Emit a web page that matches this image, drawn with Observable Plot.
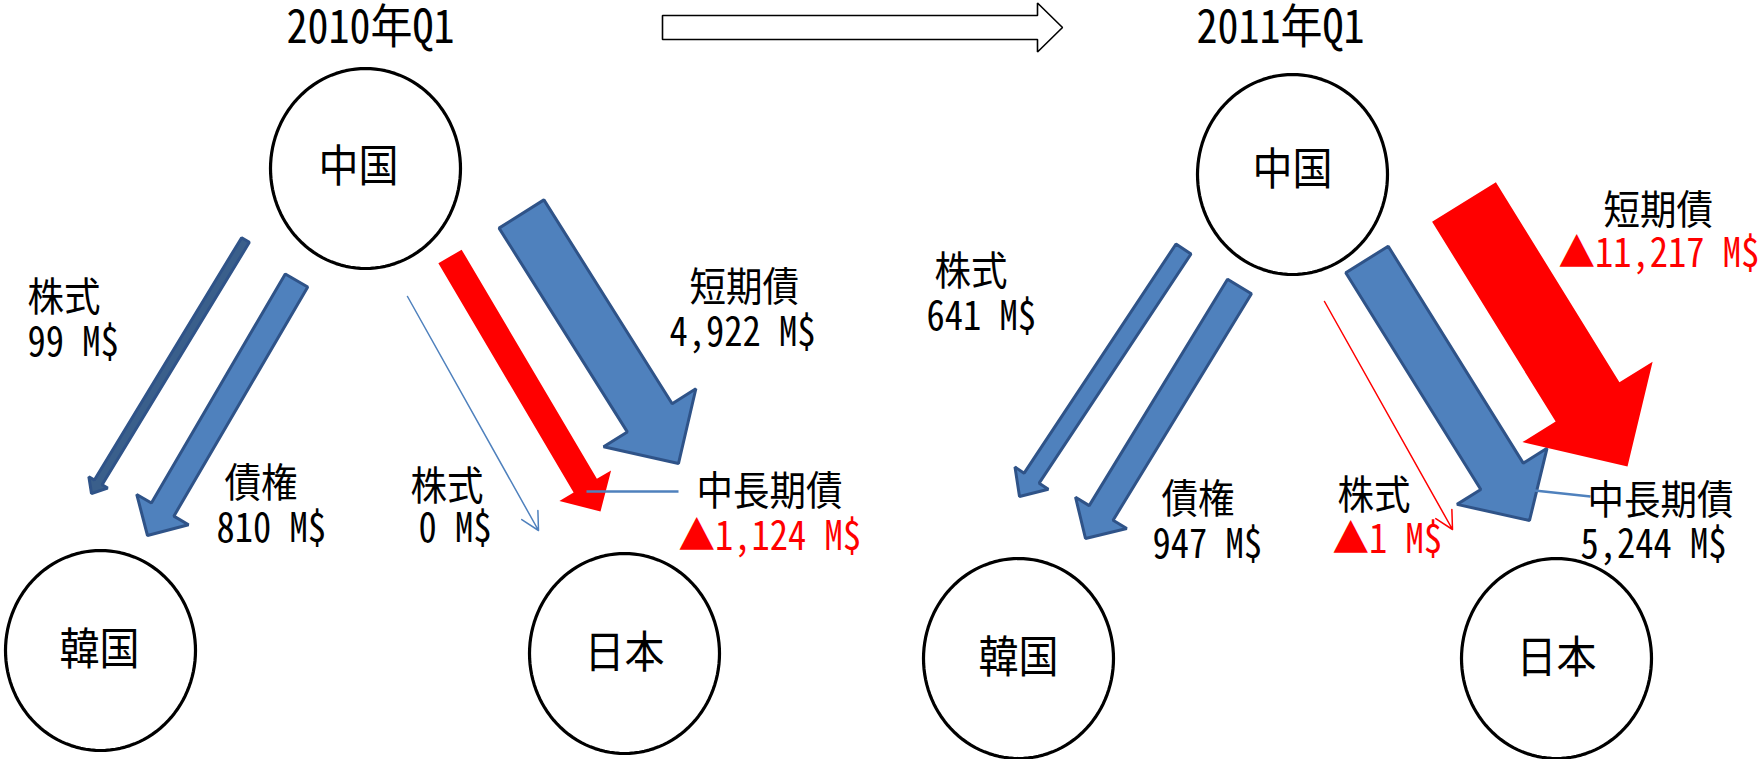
<!DOCTYPE html>
<html><head><meta charset="utf-8">
<script src="https://cdn.jsdelivr.net/npm/d3@7"></script>
<script src="https://cdn.jsdelivr.net/npm/@observablehq/plot@0.6"></script>
<style>
html,body{margin:0;padding:0;background:#fff;}
#chart svg{display:block;}
</style>
</head><body><div id="chart"></div>
<script>
// ---------- data ----------
const periods = ["2010年Q1", "2011年Q1"];
const nodeNames = ["中国", "韓国", "日本"];
const flowTypes = ["株式", "債権", "株式", "中長期債", "短期債"];
const flowTargets = ["韓国", "韓国", "日本", "日本", "日本"];
const values2010 = [99, 810, 0, -1124, 4922];
const values2011 = [641, 947, -1, 5244, -11217];
const unit = "M$";

// ---------- layout (pixels in the 1758 x 759 frame) ----------
const W = 1758, H = 759;
const titlePos = [[370, 28], [1280, 28]];
const nodeCenters = [
  [[365, 168], [100, 650], [624, 653]],
  [[1292, 174], [1018, 658], [1556, 658]]
];
const nodeLabelPos = [
  [[358, 167], [99, 650], [624, 653]],
  [[1292, 170], [1018, 658], [1556, 658]]
];
const nodeRadii = [95, 100];
// [tailX, tailY, tipX, tipY, shaftWidth, headWidth, headLength]
const arrowGeo = [
  [[245, 239.5, 91, 493, 9, 22, 13], [296, 280, 147, 535, 26, 60, 30], [407, 296, 538, 530, 0, 0, 0],
   [449.5, 256, 600, 511, 27, 60, 30], [521, 213.5, 678, 463, 53, 109, 54]],
  [[1183, 248.5, 1019, 496, 18, 40, 22], [1239, 286, 1085, 538, 28, 60, 30], [1324, 301, 1452, 529, 0, 0, 0],
   [1366.5, 259, 1529, 520, 50, 106, 52], [1463.5, 201.5, 1627, 466, 75, 153, 76]]
];
// [typeX, typeY, valueX, valueY]
const labelGeo = [
  [[27, 298, 27, 343], [224, 484, 216, 529], [410, 487, 418, 529], [696, 492, 678, 537], [689, 288, 669, 333]],
  [[934, 272, 926, 317], [1161, 500, 1152, 545], [1337, 496, 1332, 540], [1587, 501, 1580, 545], [1603, 211, 1558, 254]]
];
const leaderGeo = [[586, 491, 678, 491], [1534, 490, 1590, 496]];
const periodArrowGeo = [662, 27, 1062, 27, 24, 49, 25];

const BLUE = "#4F81BD", BLUE_EDGE = "#2F5388", RED = "#FF0000";
const font = "'Noto Sans CJK JP', 'Noto Sans CJK SC', sans-serif";

// ---------- build tables ----------
const valuesByPeriod = [values2010, values2011];
const fmt = d3.format(",");
const flows = [];
periods.forEach((p, pi) => flowTypes.forEach((t, fi) => {
  const v = valuesByPeriod[pi][fi];
  flows.push({
    period: p, type: t, target: flowTargets[fi], value: v, id: `${pi}-${fi}`,
    g: arrowGeo[pi][fi], lg: labelGeo[pi][fi],
    valueText: (v < 0 ? "▲" : "") + fmt(Math.abs(v)) + " " + unit
  });
}));

function arrowPoly(id, [tx, ty, px, py, sw, hw, hl], extra = {}) {
  const dx = px - tx, dy = py - ty, L = Math.hypot(dx, dy);
  const ux = dx / L, uy = dy / L, nx = -uy, ny = ux;
  const bx = px - ux * hl, by = py - uy * hl;
  const pts = [
    [tx + nx * sw / 2, ty + ny * sw / 2], [bx + nx * sw / 2, by + ny * sw / 2],
    [bx + nx * hw / 2, by + ny * hw / 2], [px, py],
    [bx - nx * hw / 2, by - ny * hw / 2], [bx - nx * sw / 2, by - ny * sw / 2],
    [tx - nx * sw / 2, ty - ny * sw / 2]
  ];
  return pts.map(([x, y]) => ({id, x, y, sw, ...extra}));
}

const blockFlows = flows.filter(f => Math.abs(f.value) > 1);
const thinFlows = flows.filter(f => Math.abs(f.value) <= 1);
const bluePts = blockFlows.filter(f => f.value > 0).flatMap(f => arrowPoly(f.id, f.g));
const redPts = blockFlows.filter(f => f.value < 0).flatMap(f => arrowPoly(f.id, f.g));
const periodArrowPts = arrowPoly("period", periodArrowGeo);

const ellipsePts = [];
const nodeLabels = [];
periods.forEach((p, pi) => nodeNames.forEach((n, ni) => {
  const [cx, cy] = nodeCenters[pi][ni];
  nodeLabels.push({name: n, x: nodeLabelPos[pi][ni][0], y: nodeLabelPos[pi][ni][1]});
  for (let k = 0; k < 120; k++) {
    const a = 2 * Math.PI * k / 120;
    ellipsePts.push({id: `${pi}-${ni}`, x: cx + nodeRadii[0] * Math.cos(a), y: cy + nodeRadii[1] * Math.sin(a)});
  }
}));
const titles = periods.map((p, i) => ({text: p, x: titlePos[i][0], y: titlePos[i][1]}));
const leaders = leaderGeo.map(([x1, y1, x2, y2]) => ({x1, y1, x2, y2}));

const chart = Plot.plot({
  width: W, height: H, margin: 0,
  x: {type: "linear", domain: [0, W], range: [0, W], axis: null},
  y: {type: "linear", domain: [0, H], range: [0, H], axis: null},
  color: {type: "identity"},
  style: {fontFamily: font, background: "white", fontFeatureSettings: '"hwid" 1'},
  marks: [
    Plot.line(ellipsePts, {x: "x", y: "y", z: "id", curve: "linear-closed", fill: "white", stroke: "black", strokeWidth: 3.2}),
    Plot.line(periodArrowPts, {x: "x", y: "y", z: "id", curve: "linear-closed", fill: "white", stroke: "black", strokeWidth: 1.6, strokeLinejoin: "miter"}),
    Plot.line(bluePts, {x: "x", y: "y", z: "id", curve: "linear-closed",
      fill: d => d.sw < 12 ? "#3A5F8B" : BLUE, stroke: BLUE_EDGE, strokeWidth: 3, strokeLinejoin: "miter"}),
    Plot.line(redPts, {x: "x", y: "y", z: "id", curve: "linear-closed", fill: RED, stroke: "none"}),
    Plot.arrow(thinFlows, {x1: d => d.g[0], y1: d => d.g[1], x2: d => d.g[2], y2: d => d.g[3],
      stroke: d => d.value < 0 ? RED : BLUE, strokeWidth: 1.5, headLength: 20, headAngle: 55, inset: 0}),
    Plot.link(leaders, {x1: "x1", y1: "y1", x2: "x2", y2: "y2", stroke: BLUE, strokeWidth: 2.5}),
    Plot.text(nodeLabels, {x: "x", y: "y", text: "name", fontSize: 40, fill: "black", fontFamily: font, className: "stretch"}),
    Plot.text(titles, {x: "x", y: "y", text: "text", fontSize: 42, fill: "black", fontFamily: font, className: "stretch"}),
    Plot.text(flows, {x: d => d.lg[0], y: d => d.lg[1], text: "type", textAnchor: "start", fontSize: 36.5, fill: "black", fontFamily: font, className: "stretch"}),
    Plot.text(flows, {x: d => d.lg[2], y: d => d.lg[3], text: "valueText", textAnchor: "start", fontSize: 36.5,
      fill: d => d.value < 0 ? RED : "black", fontFamily: font, className: "stretch"})
  ]
});
// the reference typeface is a little taller than it is wide: stretch glyphs vertically about their anchor
d3.select(chart).selectAll(".stretch text").each(function() {
  const t = this.getAttribute("transform");
  if (t && t.includes("translate")) this.setAttribute("transform", t + " scale(1,1.1)");
});
document.getElementById("chart").appendChild(chart);
</script>
</body></html>
